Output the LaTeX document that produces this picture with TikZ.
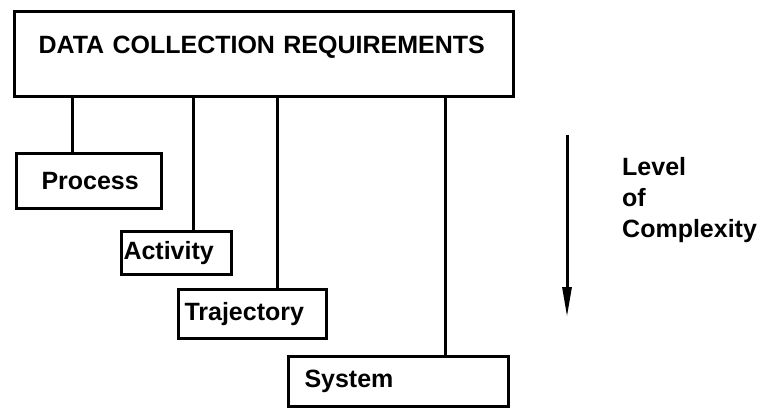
\documentclass[tikz,border=0pt]{standalone}
\usepackage{fontspec}
\setmainfont{Liberation Sans}
\usetikzlibrary{arrows.meta}
\begin{document}
\begin{tikzpicture}[x=1pt,y=-1pt]
    \tikzset{%
        bx/.style={draw, line width=3pt, anchor=north west, align=left, inner ysep=0pt,
            font=\fontsize{25}{31}\selectfont\bfseries},
        ln/.style={line width=3pt},
        ar/.style={line width=3pt, -{Triangle[length=30pt,width=9pt]}}%
        }
    \useasboundingbox (0,0) rectangle (765,407);
    \node[bx, font=\fontsize{25}{31}\selectfont\bfseries, text width=451pt, inner xsep=24pt,
        text height=42pt, text depth=43pt](req)at(13,10){DATA COLLECTION REQUIREMENTS};
    \node[bx, text width=95pt, inner xsep=25pt, minimum height=55pt](proc)at(15,152){Process};
    \node[bx, text width=106pt, inner xsep=2pt, minimum height=43pt](act)at(120,230){Activity};
    \node[bx, text width=136pt, inner xsep=6pt, minimum height=49pt](traj)at(177,288){Trajectory};
    \node[bx, text width=188pt, inner xsep=16pt, minimum height=50pt](sys)at(287,355){System};
    \node[align=left, inner sep=0pt, anchor=base west, font=\fontsize{25}{31}\selectfont\bfseries]
        (lvl)at(622,237){Level\\of\\Complexity};
    \coordinate (c1) at (72,0 |- req.south);
    \coordinate (c2) at (193,0 |- req.south);
    \coordinate (c3) at (277,0 |- req.south);
    \coordinate (c4) at (445,0 |- req.south);
    \coordinate (a1) at (567,135);
    \coordinate (a2) at (567,317);
    \path
    (c1)edge[ln](c1 |- proc.north)
    (c2)edge[ln](c2 |- act.north)
    (c3)edge[ln](c3 |- traj.north)
    (c4)edge[ln](c4 |- sys.north)
    (a1)edge[ar](a2);
\end{tikzpicture}
\end{document}
